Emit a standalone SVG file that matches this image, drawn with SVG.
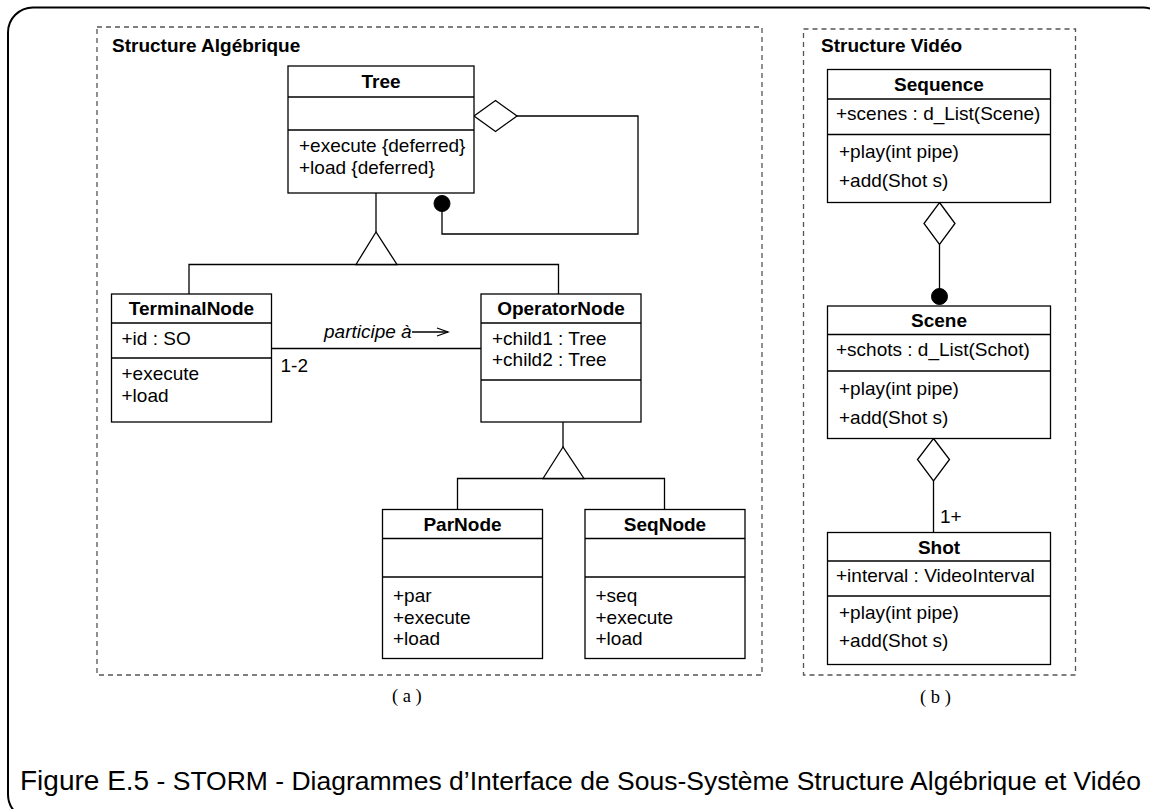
<svg xmlns="http://www.w3.org/2000/svg" width="1150" height="809" viewBox="0 0 1150 809">
<style>
.frame{fill:none;stroke:#000;stroke-width:2}
.dash{fill:none;stroke:#555;stroke-width:1.3;stroke-dasharray:5 4}
.box{fill:#fff;stroke:#000;stroke-width:1.3}
.ln{fill:none;stroke:#000;stroke-width:1.3}
.hd{fill:#fff;stroke:#000;stroke-width:1.3}
.dot{fill:#000;stroke:#000;stroke-width:1}
.t{font-family:"Liberation Sans",Arial,sans-serif;font-size:19px;fill:#000}
.b{font-weight:bold}
.m{text-anchor:middle}
.i{font-style:italic}
.s{font-family:"Liberation Serif","Times New Roman",serif;font-size:18.5px;fill:#000}
.cap{font-family:"Liberation Sans",Arial,sans-serif;fill:#000}
</style>
<rect class="frame" x="8" y="7.5" width="1160" height="812" rx="25" ry="25"/>
<rect class="dash" x="97" y="27" width="665" height="648"/>
<rect class="dash" x="803.5" y="29" width="272" height="646"/>
<text class="t b" x="112" y="52">Structure Algébrique</text>
<text class="t b" x="821" y="52">Structure Vidéo</text>
<text class="s" x="392" y="702">( a )</text>
<text class="s" x="920" y="703">( b )</text>
<text class="cap" x="20" y="790" font-size="28">Figure E.5<tspan font-size="26.5"> - STORM - Diagrammes d’Interface de Sous-Système Structure Algébrique et Vidéo</tspan></text>

<g id="connectors">
  <line class="ln" x1="376" y1="193" x2="376" y2="232"/>
  <polyline class="ln" points="189,294 189,264.5 558.5,264.5 558.5,294"/>
  <polygon class="hd" points="376,232 356,264.5 397,264.5"/>
  <polyline class="ln" points="517,116 638,116 638,234 442,234 442,205"/>
  <polygon class="hd" points="474,116 495.5,100.5 517,116 495.5,131.5"/>
  <circle class="dot" cx="442" cy="203.5" r="8"/>
  <line class="ln" x1="271.5" y1="348.5" x2="481" y2="348.5"/>
  <text class="t i" x="324" y="338">participe à</text>
  <line class="ln" x1="412" y1="332" x2="448" y2="332"/>
  <polyline class="ln" points="437,328 448,332 437,336"/>
  <text class="t" x="280.5" y="372">1-2</text>
  <line class="ln" x1="563" y1="422" x2="563" y2="447"/>
  <polyline class="ln" points="457.5,509.5 457.5,478.5 664.5,478.5 664.5,509.5"/>
  <polygon class="hd" points="563,447 543,478.5 584,478.5"/>
  <line class="ln" x1="939.5" y1="244.5" x2="939.5" y2="296"/>
  <polygon class="hd" points="939.5,202.5 955,223.5 939.5,244.5 924,223.5"/>
  <circle class="dot" cx="939.5" cy="296.5" r="8"/>
  <line class="ln" x1="933.5" y1="481" x2="933.5" y2="532.5"/>
  <polygon class="hd" points="933.5,438.5 949.5,459.5 933.5,481 917.5,459.5"/>
  <text class="t" x="940" y="523">1+</text>
</g>

<g id="Tree">
  <rect class="box" x="288" y="66" width="186" height="127"/>
  <line class="ln" x1="288" y1="97" x2="474" y2="97"/>
  <line class="ln" x1="288" y1="130" x2="474" y2="130"/>
  <text class="t b m" x="381" y="88">Tree</text>
  <text class="t" x="299" y="152">+execute {deferred}</text>
  <text class="t" x="299" y="174">+load {deferred}</text>
</g>
<g id="TerminalNode">
  <rect class="box" x="111.5" y="294" width="160" height="128"/>
  <line class="ln" x1="111.5" y1="323" x2="271.5" y2="323"/>
  <line class="ln" x1="111.5" y1="358" x2="271.5" y2="358"/>
  <text class="t b m" x="191.5" y="315">TerminalNode</text>
  <text class="t" x="121.5" y="345">+id : SO</text>
  <text class="t" x="121.5" y="380">+execute</text>
  <text class="t" x="121.5" y="402">+load</text>
</g>
<g id="OperatorNode">
  <rect class="box" x="481" y="294" width="160" height="128"/>
  <line class="ln" x1="481" y1="323" x2="641" y2="323"/>
  <line class="ln" x1="481" y1="380" x2="641" y2="380"/>
  <text class="t b m" x="561" y="315">OperatorNode</text>
  <text class="t" x="492" y="344.5">+child1 : Tree</text>
  <text class="t" x="492" y="366">+child2 : Tree</text>
</g>
<g id="ParNode">
  <rect class="box" x="382.5" y="509.5" width="160" height="149"/>
  <line class="ln" x1="382.5" y1="538.5" x2="542.5" y2="538.5"/>
  <line class="ln" x1="382.5" y1="577" x2="542.5" y2="577"/>
  <text class="t b m" x="462.5" y="531">ParNode</text>
  <text class="t" x="393" y="602">+par</text>
  <text class="t" x="393" y="623.5">+execute</text>
  <text class="t" x="393" y="645">+load</text>
</g>
<g id="SeqNode">
  <rect class="box" x="585" y="509.5" width="160" height="149"/>
  <line class="ln" x1="585" y1="538.5" x2="745" y2="538.5"/>
  <line class="ln" x1="585" y1="577" x2="745" y2="577"/>
  <text class="t b m" x="665" y="531">SeqNode</text>
  <text class="t" x="595.5" y="602">+seq</text>
  <text class="t" x="595.5" y="623.5">+execute</text>
  <text class="t" x="595.5" y="645">+load</text>
</g>
<g id="Sequence">
  <rect class="box" x="827.5" y="69.5" width="223" height="133"/>
  <line class="ln" x1="827.5" y1="99" x2="1050.5" y2="99"/>
  <line class="ln" x1="827.5" y1="134.5" x2="1050.5" y2="134.5"/>
  <text class="t b m" x="939" y="91">Sequence</text>
  <text class="t" x="836" y="120">+scenes : d_List(Scene)</text>
  <text class="t" x="839" y="157.5">+play(int pipe)</text>
  <text class="t" x="839" y="187">+add(Shot s)</text>
</g>
<g id="Scene">
  <rect class="box" x="827.5" y="306" width="223" height="132.5"/>
  <line class="ln" x1="827.5" y1="334.5" x2="1050.5" y2="334.5"/>
  <line class="ln" x1="827.5" y1="371" x2="1050.5" y2="371"/>
  <text class="t b m" x="939" y="327">Scene</text>
  <text class="t" x="836" y="355.5">+schots : d_List(Schot)</text>
  <text class="t" x="839" y="394.5">+play(int pipe)</text>
  <text class="t" x="839" y="423.5">+add(Shot s)</text>
</g>
<g id="Shot">
  <rect class="box" x="827.5" y="532.5" width="223" height="132"/>
  <line class="ln" x1="827.5" y1="561" x2="1050.5" y2="561"/>
  <line class="ln" x1="827.5" y1="596" x2="1050.5" y2="596"/>
  <text class="t b m" x="939" y="554">Shot</text>
  <text class="t" x="836" y="582">+interval : VideoInterval</text>
  <text class="t" x="839" y="618.5">+play(int pipe)</text>
  <text class="t" x="839" y="647">+add(Shot s)</text>
</g>
</svg>
